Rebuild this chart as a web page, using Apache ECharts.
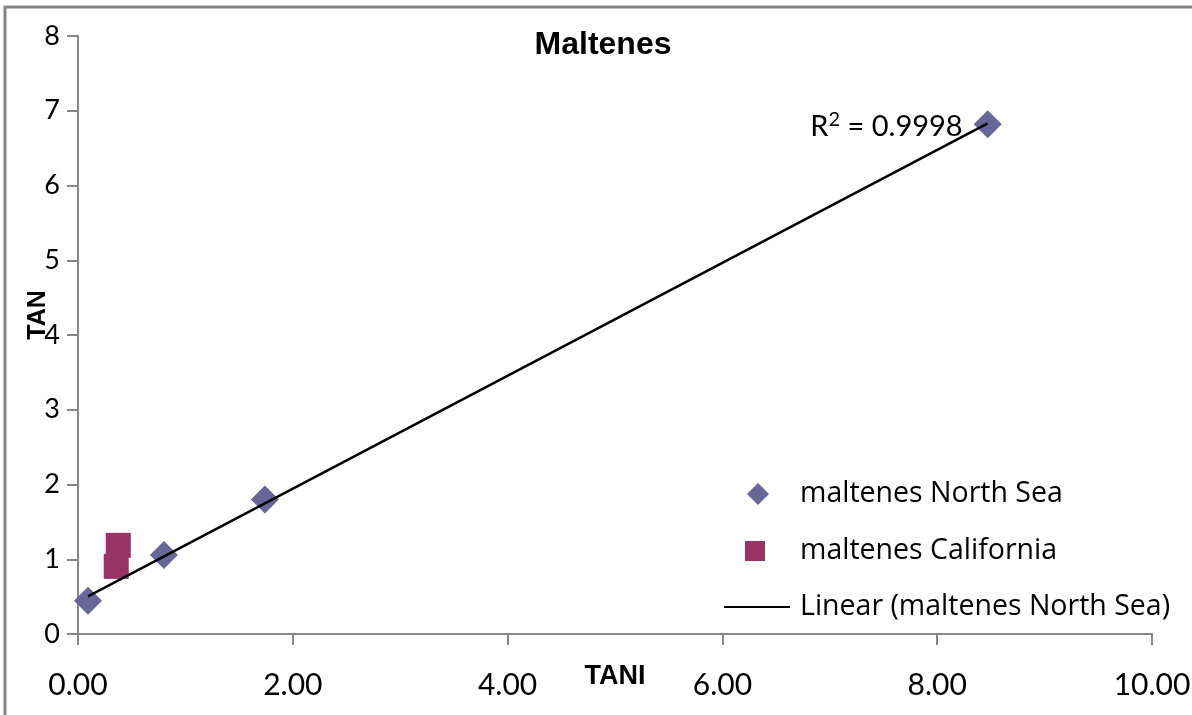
<!DOCTYPE html>
<html><head><meta charset="utf-8">
<script src="https://cdn.jsdelivr.net/npm/echarts@6/dist/echarts.min.js"></script>
<style>html,body{margin:0;padding:0;background:#fff}#c{width:1192px;height:715px}</style>
</head><body><div id="c"></div>
<script>
const northSeaX = [0.093, 0.80, 1.74, 8.47];
const northSeaY = [0.445, 1.057, 1.80, 6.82];
const californiaX = [0.356, 0.375];
const californiaY = [0.905, 1.186];
const rSquaredText = '0.9998';
const seriesNames = ['maltenes North Sea', 'maltenes California', 'Linear (maltenes North Sea)'];

// least squares trendline from North Sea data
const n = northSeaX.length;
const mx = northSeaX.reduce((a,b)=>a+b,0)/n, my = northSeaY.reduce((a,b)=>a+b,0)/n;
let sxy=0, sxx=0;
for (let i=0;i<n;i++){ sxy+=(northSeaX[i]-mx)*(northSeaY[i]-my); sxx+=(northSeaX[i]-mx)**2; }
const slope = sxy/sxx, icpt = my - slope*mx;
const xMin = Math.min(...northSeaX), xMax = Math.max(...northSeaX);
const trend = [[xMin, icpt+slope*xMin], [xMax, icpt+slope*xMax]];

const chart = echarts.init(document.getElementById('c'));
const axisGray = '#868686';
const font = 'Lato, "Open Sans", sans-serif';
const legFont = '"Open Sans", Lato, sans-serif';
const boldFont = '"Liberation Sans", Arial, sans-serif';
const legText = (pad) => ({ fontFamily: legFont, fontSize: 28.5, color: '#000', lineHeight: 30, padding: [0,0,0,pad] });
chart.setOption({
  animation: false,
  title: { text: 'Maltenes', left: 598, top: 24, textAlign: 'center',
    textStyle: { fontFamily: boldFont, fontWeight: 'bold', fontSize: 32, color: '#000' } },
  grid: { left: 78, right: 40, top: 36, bottom: 81, outerBoundsMode: 'none', containLabel: false },
  legend: [
    { left: 747, top: 479, itemWidth: 22, itemHeight: 22, padding: 0, textStyle: legText(26),
      data: [{ name: seriesNames[0], icon: 'diamond' }] },
    { left: 745, top: 536, itemWidth: 20, itemHeight: 20, padding: 0, textStyle: legText(30),
      data: [{ name: seriesNames[1], icon: 'rect' }] },
    { left: 724, top: 592, itemWidth: 66, itemHeight: 2, padding: 0, textStyle: legText(5),
      data: [{ name: seriesNames[2], icon: 'rect', itemStyle: { color: '#000' } }] }
  ],
  xAxis: {
    type: 'value', min: 0, max: 10, interval: 2,
    name: 'TANI', nameLocation: 'middle', nameGap: 29, nameMoveOverlap: false,
    nameTextStyle: { fontFamily: boldFont, fontWeight: 'bold', fontSize: 27, color: '#000' },
    axisLine: { lineStyle: { color: axisGray, width: 2 } },
    axisTick: { show: true, length: 11, lineStyle: { color: axisGray, width: 2 } },
    axisLabel: { fontFamily: font, fontSize: 30, color: '#000', margin: 36, formatter: v => v.toFixed(2) },
    splitLine: { show: false }
  },
  yAxis: {
    type: 'value', min: 0, max: 8, interval: 1,
    name: 'TAN', nameLocation: 'middle', nameGap: 27, nameRotate: 90, nameMoveOverlap: false,
    nameTextStyle: { fontFamily: boldFont, fontWeight: 'bold', fontSize: 25, color: '#000', padding: [0, 0, 0, 40] },
    axisLine: { show: true, lineStyle: { color: axisGray, width: 2 } },
    axisTick: { show: true, length: 11, lineStyle: { color: axisGray, width: 2 } },
    axisLabel: { fontFamily: font, fontSize: 27, color: '#000', margin: 18 },
    splitLine: { show: false }
  },
  series: [
    { name: seriesNames[0], type: 'scatter', symbol: 'diamond', symbolSize: 28, z: 3,
      itemStyle: { color: '#666699', opacity: 1 },
      data: northSeaX.map((x,i)=>[x, northSeaY[i]]) },
    { name: seriesNames[1], type: 'scatter', symbol: 'rect', symbolSize: 25, z: 3,
      itemStyle: { color: '#993366', opacity: 1 },
      data: californiaX.map((x,i)=>[x, californiaY[i]]) },
    { name: seriesNames[2], type: 'line', symbol: 'circle', symbolSize: 0.01, showSymbol: true, z: 4,
      lineStyle: { color: '#000', width: 2.5 }, itemStyle: { color: '#000' },
      data: trend.map((p,i)=> i===1 ? { value: p, label: { show: true, position: 'left', distance: 25, offset: [0, 3],
          formatter: '{r|R}{s|2}{r| = ' + rSquaredText + '}',
          rich: { r: { fontFamily: font, fontSize: 29, color: '#000', lineHeight: 34 }, s: { fontFamily: font, fontSize: 20, color: '#000', verticalAlign: 'top', lineHeight: 20 } } } } : p)
    }
  ],
  graphic: [
    { type: 'polyline', silent: true, shape: { points: [[5, 715], [5, 7], [1192, 7]] }, style: { stroke: axisGray, lineWidth: 3, fill: null } }
  ]
});
</script></body></html>
